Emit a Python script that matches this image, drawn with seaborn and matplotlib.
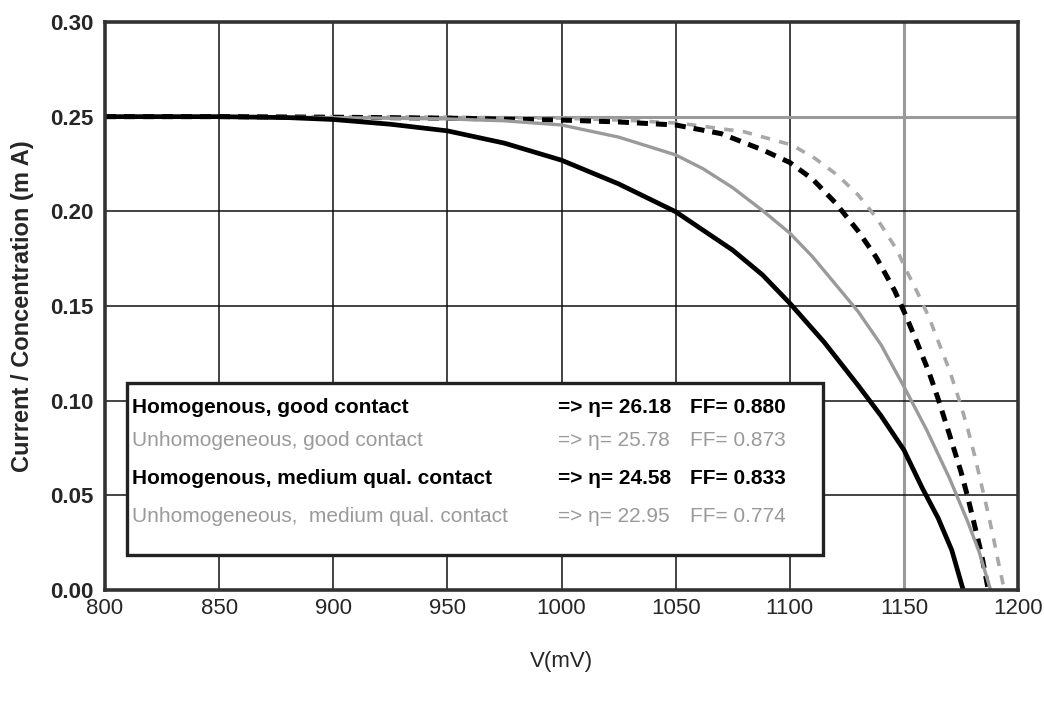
import matplotlib
matplotlib.use("Agg")
import matplotlib.pyplot as plt
import seaborn as sns
import pandas as pd
from matplotlib.patches import Rectangle

# Curves (V in mV, current in mA)
v_hom_good = [800, 850, 900, 950, 1000, 1025, 1050, 1070, 1088, 1100, 1110, 1120, 1130, 1138,
              1146, 1151, 1156, 1161, 1165, 1170, 1175, 1178, 1181, 1184, 1187]
i_hom_good = [0.250, 0.250, 0.2497, 0.2492, 0.2482, 0.2472, 0.2456, 0.2410, 0.2325, 0.2258,
              0.2170, 0.2045, 0.1895, 0.1755, 0.158, 0.1445, 0.130, 0.115, 0.101, 0.082, 0.0625,
              0.049, 0.034, 0.019, 0.0]

v_unh_good = [800, 900, 950, 1000, 1030, 1052, 1080, 1101, 1111, 1121, 1130, 1138, 1147, 1151,
              1156, 1161, 1165, 1170, 1175, 1178, 1181, 1184, 1187, 1189, 1191, 1194]
i_unh_good = [0.250, 0.250, 0.2497, 0.2492, 0.248, 0.2465, 0.242, 0.235, 0.228, 0.219, 0.2086,
              0.1965, 0.1795, 0.169, 0.157, 0.144, 0.1315, 0.116, 0.0975, 0.085, 0.071, 0.0555,
              0.040, 0.029, 0.017, 0.0]

v_hom_med = [800, 850, 880, 900, 925, 950, 975, 1000, 1025, 1050, 1075, 1088, 1100, 1115,
             1130, 1140, 1150, 1158, 1165, 1171, 1176]
i_hom_med = [0.250, 0.250, 0.2495, 0.2485, 0.246, 0.2425, 0.236, 0.227, 0.2145, 0.1998, 0.1795,
             0.1665, 0.1515, 0.131, 0.108, 0.092, 0.074, 0.054, 0.038, 0.021, 0.0]

v_unh_med = [800, 850, 900, 950, 975, 1000, 1025, 1050, 1062, 1075, 1088, 1100, 1110, 1120,
             1130, 1140, 1150, 1160, 1170, 1178, 1183, 1188]
i_unh_med = [0.250, 0.250, 0.2495, 0.2488, 0.2478, 0.2456, 0.2392, 0.2298, 0.2225, 0.2125,
             0.2005, 0.1885, 0.176, 0.1615, 0.147, 0.1295, 0.1075, 0.0845, 0.059, 0.036, 0.020,
             0.0]

labels = ["Homogenous, good contact",
          "Unhomogeneous, good contact",
          "Homogenous, medium qual. contact",
          "Unhomogeneous,  medium qual. contact"]
eta = ["26.18", "25.78", "24.58", "22.95"]
ff = ["0.880", "0.873", "0.833", "0.774"]

x_ticks = [800, 850, 900, 950, 1000, 1050, 1100, 1150, 1200]
y_ticks = [0.00, 0.05, 0.10, 0.15, 0.20, 0.25, 0.30]

sns.set_style("white")
plt.rcParams['font.family'] = ['Liberation Sans', 'DejaVu Sans']

black = "#000000"
gray = "#9a9a9a"

fig = plt.figure(figsize=(10.44, 7.02), dpi=100)
ax = fig.add_axes([0.1006, 0.1595, 0.8745, 0.8092])

# Grid: black, except 0.25 and 1150 which are gray in the original
ax.set_xticks(x_ticks)
ax.set_yticks(y_ticks)
ax.grid(True, color="#111111", linewidth=1.1)
ax.get_ygridlines()[5].set_color(gray)
ax.get_ygridlines()[5].set_linewidth(2.2)
ax.get_xgridlines()[7].set_color(gray)
ax.get_xgridlines()[7].set_linewidth(2.2)
ax.set_axisbelow(True)

df_ug = pd.DataFrame({"V": v_unh_good, "I": i_unh_good})
df_hg = pd.DataFrame({"V": v_hom_good, "I": i_hom_good})
df_um = pd.DataFrame({"V": v_unh_med, "I": i_unh_med})
df_hm = pd.DataFrame({"V": v_hom_med, "I": i_hom_med})

sns.lineplot(data=df_ug, x="V", y="I", ax=ax, color="#a8a8a8", linewidth=2.6,
             linestyle=(0, (2.6, 2.6)), estimator=None)
sns.lineplot(data=df_hg, x="V", y="I", ax=ax, color=black, linewidth=3.6,
             linestyle=(0, (2.2, 1.6)), estimator=None)
sns.lineplot(data=df_um, x="V", y="I", ax=ax, color=gray, linewidth=2.4, estimator=None)
sns.lineplot(data=df_hm, x="V", y="I", ax=ax, color=black, linewidth=3.4, estimator=None)

ax.set_xlim(800, 1200)
ax.set_ylim(0, 0.30)

for s in ax.spines.values():
    s.set_visible(True)
    s.set_color("#333333")
    s.set_linewidth(2.6)

ax.tick_params(axis="both", length=0)
ax.tick_params(axis="x", pad=6, labelsize=16)
ax.tick_params(axis="y", pad=8, labelsize=16)
ax.set_yticklabels([f"{t:.2f}" for t in y_ticks], fontweight="bold")
ax.set_xticklabels([str(t) for t in x_ticks])

ax.set_xlabel("V(mV)", fontsize=16, labelpad=23)
ax.set_ylabel("Current / Concentration (m A)", fontsize=17, fontweight="bold", labelpad=12)

# Text box with the efficiency table
box = Rectangle((0.024, 0.0616), 0.762, 0.303, transform=ax.transAxes,
                facecolor="white", edgecolor="#222222", linewidth=2.4, zorder=5)
ax.add_patch(box)
rows_y = [0.322, 0.263, 0.197, 0.129]
for k in range(4):
    c = black if k % 2 == 0 else gray
    w = "bold" if k % 2 == 0 else "normal"
    kw = dict(transform=ax.transAxes, color=c, fontweight=w, fontsize=15,
              va="center", ha="left", zorder=6)
    ax.text(0.0296, rows_y[k], labels[k], **kw)
    ax.text(0.496, rows_y[k], "=> η= " + eta[k], **kw)
    ax.text(0.6407, rows_y[k], "FF= " + ff[k], **kw)

fig.savefig("out.png", dpi=100)
